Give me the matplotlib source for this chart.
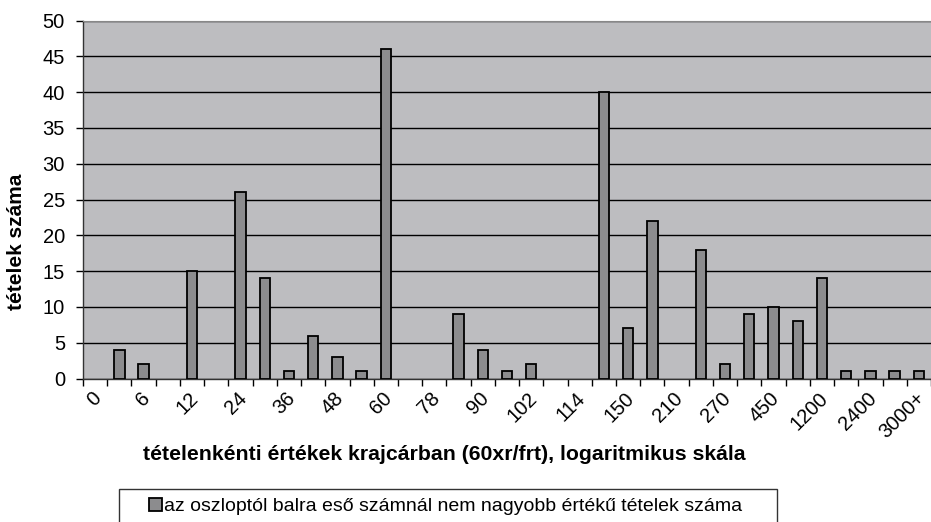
import matplotlib.pyplot as plt
import matplotlib.transforms as mtransforms
from matplotlib.legend_handler import HandlerPatch
from matplotlib.patches import Rectangle
import numpy as np

plt.rcParams['font.family'] = ['Liberation Sans', 'DejaVu Sans']

# 35 categories, only every second one is labelled
tick_labels = ["0", "6", "12", "24", "36", "48", "60", "78", "90", "102",
               "114", "150", "210", "270", "450", "1200", "2400", "3000+"]
counts = [0, 4, 2, 0, 15, 0, 26, 14, 1, 6, 3, 1, 46, 0, 0, 9, 4, 1, 2, 0,
          0, 40, 7, 22, 0, 18, 2, 9, 10, 8, 14, 1, 1, 1, 1]
legend_label = "az oszloptól balra eső számnál nem nagyobb értékű tételek száma"


def square_right(legend, orig_handle, xdescent, ydescent, width, height, fontsize):
    # small square sitting at the right end of the handle box (Excel style)
    s = 0.68 * fontsize
    return Rectangle((width - xdescent - s, -ydescent + (height - s) / 2), s, s)


fig = plt.figure(figsize=(9.31, 5.22), dpi=100)
ax = fig.add_axes([83/931, 1 - 378.5/522, 848/931, 358/522])
ax.set_facecolor("#bdbdc0")

x = np.arange(len(counts))
vals = np.array(counts, dtype=float)
shown = vals > 0   # empty categories get no bar at all
bars = ax.bar(x[shown], vals[shown], width=0.43, color="#8c8c8e", edgecolor="black",
              linewidth=1.3, zorder=3)

ax.set_xlim(-0.5, len(counts) - 0.5)
ax.set_ylim(0, 50)
ax.set_yticks(np.arange(0, 51, 5))
ax.yaxis.grid(True, color="black", linewidth=1.0, zorder=1)
ax.tick_params(axis="y", labelsize=14.5, length=5, width=1, direction="out", pad=8)

# boundaries between categories carry the tick marks
ax.set_xticks(np.arange(-0.5, len(counts), 1))
ax.set_xticklabels([])
ax.tick_params(axis="x", which="major", length=5, width=1, direction="out")
ax.set_xticks(x[::2], tick_labels, minor=True)
ax.tick_params(axis="x", which="minor", length=0, labelsize=14.5, pad=12)
shift = mtransforms.ScaledTranslation(3/100, 0, fig.dpi_scale_trans)
for lab in ax.get_xticklabels(minor=True):
    lab.set_rotation(45)
    lab.set_ha("right")
    lab.set_va("center")
    lab.set_rotation_mode("anchor")
    lab.set_transform(lab.get_transform() + shift)

for s in ["left", "bottom"]:
    ax.spines[s].set_color("#333333")
    ax.spines[s].set_linewidth(1)
ax.spines["top"].set_color("#888888")
ax.spines["right"].set_visible(False)

fig.text(17/931, 1 - 242/522, "tételek száma", rotation=90, ha="center", va="center",
         fontsize=15, fontweight="bold")
fig.text(444/931, 1 - 454/522, "tételenkénti értékek krajcárban (60xr/frt), logaritmikus skála",
         ha="center", va="center", fontsize=15.3, fontweight="bold")

leg = fig.legend([bars[0]], [legend_label + "     "], loc="upper left",
                 bbox_to_anchor=(119/931, 1 - 489/522), fontsize=14,
                 frameon=True, fancybox=False, edgecolor="black",
                 handler_map={Rectangle: HandlerPatch(patch_func=square_right)},
                 handlelength=1.75, handleheight=0.7, handletextpad=0.1,
                 borderpad=0.45, borderaxespad=0)
leg.get_frame().set_linewidth(1)

fig.savefig("out.png", dpi=100)
